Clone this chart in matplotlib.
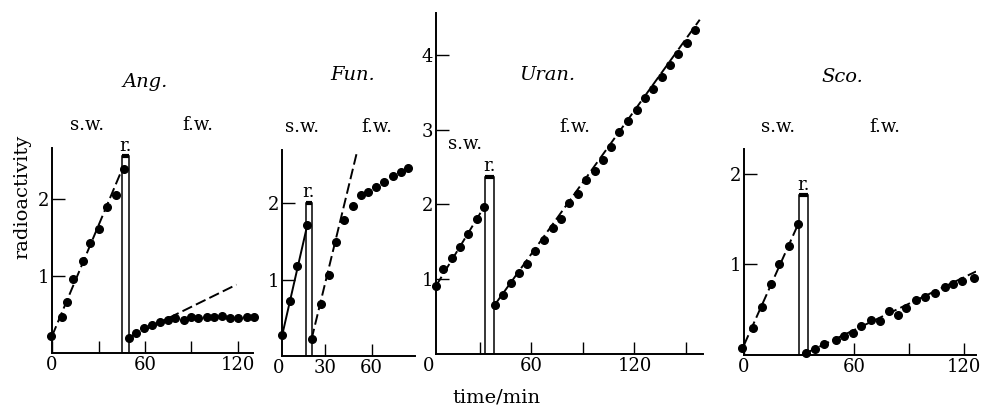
import matplotlib.pyplot as plt

# ---- Ang. ----
ang_sw_t = [-0.6, 6.5, 9.8, 13.7, 20.3, 24.7, 30.5, 35.6, 41.0, 46.5]
ang_sw_y = [0.22, 0.47, 0.67, 0.97, 1.20, 1.43, 1.61, 1.90, 2.06, 2.40]
ang_fw_t = [49.5, 54.5, 59.6, 64.4, 69.8, 74.8, 79.6, 85.0, 89.4, 94.5,
            99.7, 104.7, 109.7, 115.0, 120.0, 125.5, 130.3]
ang_fw_y = [0.20, 0.26, 0.33, 0.36, 0.40, 0.43, 0.45, 0.43, 0.47, 0.46,
            0.47, 0.47, 0.48, 0.46, 0.46, 0.47, 0.47]
ang_sw_fit_t, ang_sw_fit_y = [0, 46], [0.22, 2.43]
ang_fw_fit_t, ang_fw_fit_y = [49.5, 119], [0.20, 0.89]
ang_rinse = [45.4, 49.5, 2.56]          # start, end, height

# ---- Fun. ----
fun_sw_t = [2.6, 7.5, 11.8, 18.7]
fun_sw_y = [0.28, 0.72, 1.18, 1.72]
fun_fw_t = [21.4, 27.2, 32.6, 37.1, 42.4, 47.8, 52.9, 57.9, 62.8, 68.1,
            73.5, 78.6, 83.5]
fun_fw_y = [0.22, 0.68, 1.06, 1.50, 1.78, 1.97, 2.11, 2.15, 2.22, 2.28,
            2.36, 2.41, 2.47]
fun_sw_fit_t, fun_sw_fit_y = [2.6, 18.7], [0.28, 1.72]
fun_fw_fit_t, fun_fw_fit_y = [21.4, 50.8], [0.22, 2.69]
fun_rinse = [17.8, 21.4, 2.01]

# ---- Uran. ----
uran_sw_t = [4.4, 8.6, 13.5, 18.3, 23.2, 28.1, 32.5]
uran_sw_y = [0.91, 1.13, 1.28, 1.43, 1.60, 1.81, 1.97]
uran_fw_t = [38.7, 43.6, 48.0, 52.7, 57.2, 62.0, 67.3, 72.3, 77.0, 82.0,
             86.9, 91.7, 97.0, 101.4, 106.3, 111.1, 116.4, 121.6, 126.1,
             130.9, 135.8, 140.6, 145.5, 150.4, 155.2]
uran_fw_y = [0.66, 0.79, 0.95, 1.08, 1.21, 1.38, 1.52, 1.68, 1.81, 2.02,
             2.14, 2.33, 2.45, 2.60, 2.77, 2.97, 3.11, 3.26, 3.42, 3.55,
             3.71, 3.86, 4.01, 4.16, 4.33]
uran_sw_fit_t, uran_sw_fit_y = [4.4, 32.5], [0.91, 1.97]
uran_fw_fit_t, uran_fw_fit_y = [38.7, 158.0], [0.66, 4.47]
uran_rinse = [32.9, 38.3, 2.37]

# ---- Sco. ----
sco_sw_t = [-1.3, 4.7, 9.6, 14.5, 19.3, 24.5, 29.6]
sco_sw_y = [0.08, 0.30, 0.53, 0.78, 1.00, 1.20, 1.44]
sco_fw_t = [33.8, 38.7, 43.8, 50.2, 54.7, 59.6, 64.2, 69.6, 74.5, 79.0,
            84.2, 88.7, 93.8, 99.0, 104.5, 109.6, 114.5, 119.3, 125.5]
sco_fw_y = [0.02, 0.07, 0.12, 0.16, 0.21, 0.24, 0.32, 0.39, 0.37, 0.49,
            0.44, 0.52, 0.61, 0.64, 0.68, 0.75, 0.78, 0.82, 0.85]
sco_sw_fit_t, sco_sw_fit_y = [0, 30], [0.11, 1.46]
sco_fw_fit_t, sco_fw_fit_y = [33.8, 126.8], [0.02, 0.92]
sco_rinse = [30.2, 35.1, 1.76]

names = ["Ang.", "Fun.", "Uran.", "Sco."]
x_ticks = [[0, 30, 60, 90, 120], [30, 60], [30, 60, 90, 120, 150], [0, 60, 90, 120]]
x_tick_labels = [["0", "", "60", "", "120"], ["30", "60"],
                 ["", "60", "", "120", ""], ["0", "60", "", "120"]]
y_ticks = [[1, 2], [1, 2], [1, 2, 3, 4], [1, 2]]

panels = [
    (ang_sw_t, ang_sw_y, ang_fw_t, ang_fw_y, ang_sw_fit_t, ang_sw_fit_y,
     ang_fw_fit_t, ang_fw_fit_y, ang_rinse),
    (fun_sw_t, fun_sw_y, fun_fw_t, fun_fw_y, fun_sw_fit_t, fun_sw_fit_y,
     fun_fw_fit_t, fun_fw_fit_y, fun_rinse),
    (uran_sw_t, uran_sw_y, uran_fw_t, uran_fw_y, uran_sw_fit_t, uran_sw_fit_y,
     uran_fw_fit_t, uran_fw_fit_y, uran_rinse),
    (sco_sw_t, sco_sw_y, sco_fw_t, sco_fw_y, sco_sw_fit_t, sco_sw_fit_y,
     sco_fw_fit_t, sco_fw_fit_y, sco_rinse),
]

# layout (pixels): left, right, top, bottom of each axes box, and axis limits
W, H = 981, 412
boxes = [(52, 253.5, 148, 353), (282, 415, 150, 356),
         (436, 703, 13, 354), (744, 976, 149, 355)]
xlims = [(0, 130), (2.4, 87.9), (4.4, 159.9), (0, 126.8)]
ylims = [(0, 2.67), (0, 2.70), (0, 4.56), (0, 2.27)]
zero_label = [False, True, True, False]
sw_solid = [False, True, False, False]

# text positions (pixels)
title_pos = [(145, 82), (353, 75), (547, 75), (842, 77)]
sw_pos = [(87, 125), (302, 127), (465, 144), (778, 127)]
fw_pos = [(198, 125), (377, 127), (575, 127), (885, 127)]

plt.rcParams['font.family'] = 'DejaVu Serif'
fig = plt.figure(figsize=(W / 100, H / 100), dpi=100)

dash = (0, (5.5, 2.2))
for i, p in enumerate(panels):
    sw_t, sw_y, fw_t, fw_y, swf_t, swf_y, fwf_t, fwf_y, rinse = p
    l, r, t, b = boxes[i]
    ax = fig.add_axes([l / W, 1 - b / H, (r - l) / W, (b - t) / H])

    # rinse bar, with heavy top
    ax.bar(rinse[0], rinse[2], width=rinse[1] - rinse[0], align='edge',
           facecolor='white', edgecolor='black', linewidth=1.1, zorder=2)
    ax.plot([rinse[0], rinse[1]], [rinse[2], rinse[2]], color='black', lw=3,
            solid_capstyle='butt', zorder=3)
    ax.annotate("r.", xy=((rinse[0] + rinse[1]) / 2, rinse[2]), xytext=(0, 1),
                textcoords='offset points', ha='center', va='bottom', fontsize=13)

    # fitted lines
    ax.plot(swf_t, swf_y, color='black', lw=1.4,
            linestyle='-' if sw_solid[i] else dash, zorder=3)
    ax.plot(fwf_t, fwf_y, color='black', lw=1.4, linestyle=dash, zorder=3)

    # measured points
    ax.plot(sw_t, sw_y, 'o', color='black', ms=5.5, clip_on=False, zorder=4)
    ax.plot(fw_t, fw_y, 'o', color='black', ms=5.5, clip_on=False, zorder=4)

    ax.set_xlim(*xlims[i])
    ax.set_ylim(*ylims[i])
    ax.set_xticks(x_ticks[i])
    ax.set_xticklabels(x_tick_labels[i])
    ax.set_yticks(y_ticks[i])
    ax.tick_params(direction='in', length=9, width=1.0, labelsize=13, pad=2)
    for s in ['top', 'right']:
        ax.spines[s].set_visible(False)
    for s in ['left', 'bottom']:
        ax.spines[s].set_linewidth(1.4)
    if zero_label[i]:
        ax.annotate("0", xy=(0, 0), xycoords=('data', 'axes fraction'),
                    xytext=(0, -2), textcoords='offset points', ha='center',
                    va='top', fontsize=13, annotation_clip=False)

    fig.text(title_pos[i][0] / W, 1 - title_pos[i][1] / H, names[i],
             style='italic', fontsize=14, ha='center', va='center')
    fig.text(sw_pos[i][0] / W, 1 - sw_pos[i][1] / H, "s.w.",
             fontsize=13, ha='center', va='center')
    fig.text(fw_pos[i][0] / W, 1 - fw_pos[i][1] / H, "f.w.",
             fontsize=13, ha='center', va='center')

fig.text(22 / W, 1 - 197 / H, "radioactivity", rotation=90, fontsize=14,
         ha='center', va='center')
fig.text(496 / W, 1 - 398 / H, "time/min", fontsize=14, ha='center', va='center')

fig.savefig("out.png", dpi=100)
